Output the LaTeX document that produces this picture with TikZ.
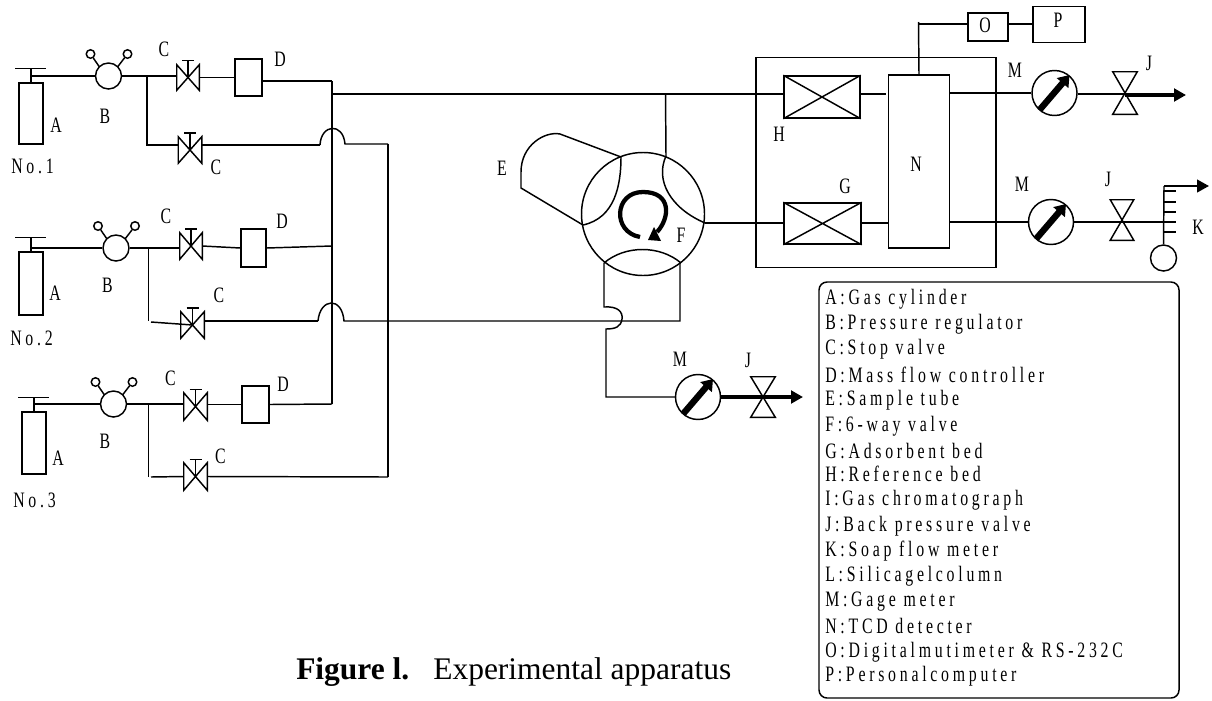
\documentclass[tikz,border=0pt]{standalone}
\usepackage{fontspec}
\usetikzlibrary{arrows.meta,calc}
\setmainfont{Liberation Serif}
\newfontfamily\labfont[FakeStretch=0.72,LetterSpace=17]{Liberation Serif}
\newcommand{\valve}[5]{% hourglass: name, x, y, w, h
  \node[valvebox,minimum width=#4*0.75pt,minimum height=#5*0.75pt] (#1) at (#2,#3) {};
  \draw[pipe] (#1.north west) -- (#1.south east) -- (#1.south west) -- (#1.north east) -- cycle;
}
\newcommand{\stopvalve}[5]{% bowtie with stem: name, x, y, w, h
  \node[valvebox,minimum width=#4*0.75pt,minimum height=#5*0.75pt] (#1) at (#2,#3) {};
  \draw[pipe] (#1.north west) -- (#1.south east) -- (#1.north east) -- (#1.south west) -- cycle;
  \draw[pipe] (#1.center) -- ++(0,-17) coordinate (#1t);
  \draw[pipe] ($(#1t)+(-6,0)$) -- ($(#1t)+(6,0)$);
}
\newcommand{\gauge}[3]{% name, x, y
  \node[gaugecirc] (#1) at (#2,#3) {};
  \draw[thickarrow] ($(#1)+(-15,17)$) -- ($(#1)+(15,-18)$);
}
\newcommand{\cyl}[4]{% name, x, y, height
  \node[boxn,minimum width=24*0.75pt,minimum height=#4*0.75pt] (#1) at (#2,#3) {};
  \draw[pipe] (#1.north) -- ++(0,-14) coordinate (#1c);
  \draw[pipe] ($(#1c)+(-16,0)$) -- ($(#1c)+(15,0)$);
}
\newcommand{\reg}[3]{% name, x, y
  \node[regc] (#1) at (#2,#3) {};
  \node[knob] (#1l) at ($(#1)+(-18,-22)$) {};
  \node[knob] (#1r) at ($(#1)+(19,-22)$) {};
  \draw[pipe] (#1) ++(-9,-9) -- (#1l);
  \draw[pipe] (#1) ++(9,-9) -- (#1r);
}
\tikzset{
  x=0.75pt,y=-0.75pt,
  pipe/.style={line width=1.1pt,black},
  boxn/.style={draw,line width=1.1pt,inner sep=0pt,fill=white},
  valvebox/.style={inner sep=0pt,rectangle},
  gaugecirc/.style={circle,draw,line width=1.1pt,inner sep=0pt,minimum size=45*0.75pt},
  regc/.style={circle,draw,line width=1.1pt,inner sep=0pt,minimum size=26*0.75pt},
  knob/.style={circle,draw,line width=1.1pt,inner sep=0pt,minimum size=8.5*0.75pt},
  thickarrow/.style={line width=4.8pt,-{Triangle[length=8pt,width=11pt]},black},
  flowarrow/.style={line width=2.4pt,-{Triangle[length=9pt,width=9.5pt]},black},
  lab/.style={inner sep=0pt,font=\labfont\fontsize{16.5}{16.5}\selectfont},
  leg/.style={inner sep=0pt,anchor=west,font=\labfont\fontsize{16.5}{16.5}\selectfont},
}
\begin{document}
\begin{tikzpicture}
\useasboundingbox[fill=white] (0,0) rectangle (1212,700);

% --- row 1
\cyl{a1}{31}{113.5}{61}
\reg{b1}{108.5}{76}
\stopvalve{c1}{188}{77.5}{22}{25}
\stopvalve{c2}{190}{150}{23}{26}
\node[boxn,minimum width=27*0.75pt,minimum height=37*0.75pt] (d1) at (248.5,77.5) {};
% --- row 2
\cyl{a2}{31}{283.5}{63}
\reg{b2}{116}{248}
\stopvalve{c3}{191}{246}{22}{26}
\stopvalve{c4}{192.5}{325}{23}{26}
\node[boxn,minimum width=25*0.75pt,minimum height=38*0.75pt] (d2) at (253.5,248) {};
% --- row 3
\cyl{a3}{34}{443}{62}
\reg{b3}{113.5}{404}
\stopvalve{c5}{195.5}{406.5}{23}{27}
\stopvalve{c6}{195.5}{476.5}{23}{27}
\node[boxn,minimum width=27*0.75pt,minimum height=37*0.75pt] (d3) at (255.5,404.5) {};

% --- oven
\node[draw,line width=1.1pt,inner sep=0pt,minimum width=240*0.75pt,minimum height=209.5*0.75pt] (oven) at (876,162.5) {};
\node[boxn,minimum width=76*0.75pt,minimum height=42*0.75pt] (hb) at (822,97) {};
\draw[pipe] (hb.north west) -- (hb.south east) (hb.south west) -- (hb.north east);
\node[boxn,minimum width=77*0.75pt,minimum height=41*0.75pt] (gb) at (822.5,223.5) {};
\draw[pipe] (gb.north west) -- (gb.south east) (gb.south west) -- (gb.north east);
\node[boxn,minimum width=61*0.75pt,minimum height=173*0.75pt] (nb) at (919,161.5) {};
\node[boxn,minimum width=40*0.75pt,minimum height=28*0.75pt] (ob) at (988,27) {};
\node[boxn,minimum width=52*0.75pt,minimum height=36*0.75pt] (pb) at (1059,24.5) {};

% --- gauges and back pressure valves
\gauge{m1}{1054.5}{93}
\gauge{m2}{1051}{222}
\gauge{m3}{698}{397}
\valve{j1}{1125}{93}{24}{42}
\valve{j2}{1122}{220}{23}{40}
\valve{j3}{763}{397}{24}{40}

% --- soap flow meter
\node[circle,draw,line width=1.1pt,inner sep=0pt,minimum size=26*0.75pt] (kc) at (1163.5,258) {};
\coordinate (ktop) at (1164,186);
\coordinate (kend) at (1209,186);
\draw[pipe] (kc.north) -- (ktop);
\foreach \yy in {191,202,212,222,232} \draw[pipe] (1164,\yy) -- (1176,\yy);
\draw[flowarrow,line width=1.6pt] (ktop) -- (kend);

% --- six-way valve
\node[circle,draw,line width=1.1pt,inner sep=0pt,minimum size=123*0.75pt] (f) at (643,214) {};
\coordinate (fe1) at (621,157);
\coordinate (fe2) at (583,225);
\coordinate (fh) at (666,156);
\coordinate (fg) at (705,223);
\coordinate (fb1) at (604,263);
\coordinate (fb2) at (681,263);
\draw[pipe] (fe1) .. controls (621,185) and (615,218) .. (fe2);
\draw[pipe] (fe1) -- (560,134) .. controls (545,131) and (521,145) .. (521,172) -- (521,188) -- (fe2);
\draw[pipe] (fh) .. controls (655,180) and (670,208) .. (fg);
\draw[pipe] (fb1) .. controls (625,245) and (660,245) .. (fb2);
\draw[line width=3.2pt] (640,237) .. controls (612,232) and (614,192) .. (643,192) .. controls (672,192) and (670,218) .. (657,232);
\fill (654,227) -- (661,241) -- (648,240) -- cycle;

% --- gas manifold
\coordinate (tee) at (332,94);
\coordinate (m1top) at (332,81);
\coordinate (m1bot) at (332,404);
\draw[pipe] (m1top) -- (m1bot);
\coordinate (r1top) at (388,144);
\coordinate (r1bot) at (388,477);
\draw[pipe] (r1top) -- (r1bot);
\draw[pipe] (tee) -- (hb.west |- tee);
\draw[pipe] (665.5,94) -- (fh);
\draw[pipe] (fg) -- (gb.west |- fg);

% row 1 connectors
\draw[pipe] (a1c |- b1) -- (b1.west);
\draw[pipe] (b1.east) -- (c1.west |- b1);
\draw[pipe] (c1.east) -- (d1.west);
\draw[pipe] (d1.east |- m1top) -- (m1top);
\coordinate (s1) at (147,76);
\coordinate (s1b) at (147,145);
\draw[pipe] (s1) -- (s1b) -- (c2.west |- s1b);
\coordinate (h1a) at (320,145);
\coordinate (h1b) at (345,144);
\draw[pipe] (c2.east |- s1b) -- (h1a);
\draw[pipe] (h1a) .. controls (321,124) and (343,122) .. (h1b) -- (r1top);
% row 2 connectors
\draw[pipe] (a2c |- b2) -- (b2.west);
\draw[pipe] (b2.east) -- (c3.west |- b2);
\draw[pipe] (c3.east) -- (d2.west);
\draw[pipe] (d2.east) -- (332,246);
\coordinate (s2) at (148.5,248);
\coordinate (s2b) at (148.5,321);
\draw[pipe] (s2) -- (s2b);
\draw[pipe] (151,322) -- (c4.center);
\coordinate (h2a) at (318,321);
\coordinate (h2b) at (344,321);
\draw[pipe] (204,321) -- (h2a);
\draw[pipe] (h2a) .. controls (320,298) and (342,296) .. (h2b) -- (680,321) -- (680,263);
% row 3 connectors
\draw[pipe] (a3c |- b3) -- (b3.west);
\draw[pipe] (b3.east) -- (c5.west |- b3);
\draw[pipe] (c5.east |- d3) -- (d3.west);
\draw[pipe] (d3.east) -- (m1bot);
\coordinate (s3) at (148.5,404);
\coordinate (s3b) at (148.5,477);
\draw[pipe] (s3) -- (s3b);
\draw[pipe] (151,477) -- (c6.west);
\draw[pipe] (c6.east) -- (r1bot);

% six-way bottom and vent
\coordinate (hv1) at (604,307);
\coordinate (hv2) at (606,329);
\coordinate (v1) at (606,397);
\draw[pipe] (fb1) -- (hv1) .. controls (618,306) and (623,312) .. (622,319) .. controls (621,327) and (615,329) .. (hv2) -- (v1) -- (m3.west);
\draw[flowarrow] (m3.east) -- (803,397);

% detector connectors
\draw[pipe] (hb.east |- tee) -- (886,94);
\draw[pipe] (gb.east |- fg) -- (nb.west |- fg);
\draw[pipe] (nb.north) -- (918.5,22);
\draw[pipe] (918.5,24) -- (ob.west |- 918.5,24);
\draw[pipe] (1009,24) -- (pb.west |- 1009,24);
\draw[pipe] (nb.east |- m1) -- (m1.west);
\draw[pipe] (nb.east |- m2) -- (m2.west);
\draw[pipe] (m1.east |- 1079,94) -- (j1.center |- 1079,94);
\draw[flowarrow] (j1.center |- 1079,95) -- (1186,95);
\draw[pipe] (m2.east) -- (1164,222);

% --- labels
\foreach \nm/\xx/\yy/\tt in {
 la1/56/125/A, la2/55/293/A, la3/58/458/A,
 lb1/105/116/B, lb2/107.5/285/B, lb3/105/441/B,
 lc1/164/49/C, lc2/216/167/C, lc3/166/216/C, lc4/219/295/C, lc5/170.5/378/C, lc6/220.5/456/C,
 ld1/280/59/D, ld2/282/221/D, ld3/283/384/D,
 le/502/168/E, lf/681/235/F, lg/845/186/G, lh/779/134/H, lk/1198/227/K,
 lj1/1149/63/J, lj2/1108/179/J, lj3/748/360/J,
 lm1/1015/70/M, lm2/1022/184/M, lm3/680/359/M,
 ln/916/164/N, lo/985/25/O, lp/1058/20/P}
 \node[lab] (\nm) at (\xx,\yy) {\tt};
\node[lab,anchor=west] (no1) at (11,166) {No.1};
\node[lab,anchor=west] (no2) at (10,338) {No.2};
\node[lab,anchor=west] (no3) at (13,500) {No.3};

% --- legend
\node[draw,line width=1.1pt,rounded corners=6pt,inner sep=0pt,minimum width=360*0.75pt,minimum height=416*0.75pt] (legend) at (999,490) {};
\foreach \nm/\yy/\tt in {
 l1/299/{A:Gas cylinder},
 l2/324/{B:Pressure regulator},
 l3/349/{C:Stop valve},
 l4/375/{D:Mass flow controller},
 l5/400/{E:Sample tube},
 l6/426/{F:6-way valve},
 l7/451/{G:Adsorbent bed},
 l8/474/{H:Reference bed},
 l9/500/{I:Gas chromatograph},
 l10/526/{J:Back pressure valve},
 l11/551/{K:Soap flow meter},
 l12/576/{L:Silicagelcolumn},
 l13/602/{M:Gage meter},
 l14/626/{N:TCD detecter},
 l15/652/{O:Digitalmutimeter \& RS-232C},
 l16/676/{P:Personalcomputer}}
 \node[leg] (\nm) at (825,\yy) {\tt};

% --- caption
\node[inner sep=0pt,anchor=base west,font=\fontsize{23.6}{23.6}\selectfont] (cap) at (296,679) {\textbf{Figure l.}\hspace{18pt}Experimental apparatus};
\end{tikzpicture}
\end{document}
